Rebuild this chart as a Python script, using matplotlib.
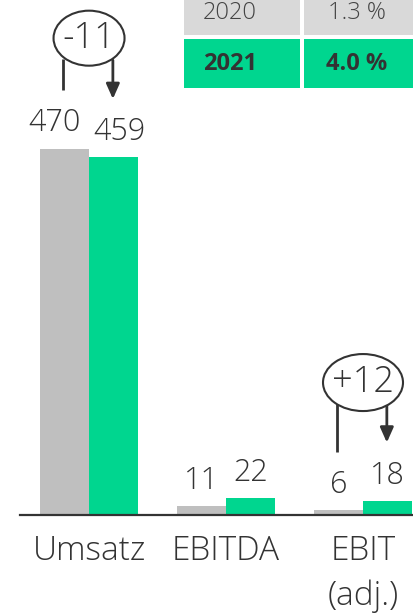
import matplotlib.pyplot as plt
from matplotlib.patches import Ellipse, Rectangle

CATEGORIES = ["Umsatz", "EBITDA", "EBIT\n(adj.)"]
VALUES_2020 = [470, 11, 6]
VALUES_2021 = [459, 22, 18]
DELTA_LABELS = ["-11", "", "+12"]

TABLE_YEARS = ["2020", "2021"]
TABLE_MARGINS = ["1.3 %", "4.0 %"]

GRAY = "#bfbfbf"
GREEN = "#00d68f"
TABLE_GRAY = "#d9d9d9"
TEXT = "#333333"
FONT = ["Open Sans", "DejaVu Sans"]
LIGHT = "light"

W, H = 413, 615
BAR_W = 0.358
YMAX = 661

plt.rcParams["font.family"] = FONT
fig = plt.figure(figsize=(W / 100, H / 100), dpi=100)

# main bar axes, placed in pixel terms: x 20..413, baseline at y=515
ax = fig.add_axes([20 / W, (H - 515) / H, 393 / W, 515 / H])
ax.set_xlim(-0.504, 2.365)
ax.set_ylim(0, YMAX)
x = range(len(CATEGORIES))
ax.bar([i - BAR_W / 2 for i in x], VALUES_2020, BAR_W, color=GRAY)
ax.bar([i + BAR_W / 2 for i in x], VALUES_2021, BAR_W, color=GREEN)

for s in ["top", "right", "left"]:
    ax.spines[s].set_visible(False)
ax.spines["bottom"].set_color(TEXT)
ax.spines["bottom"].set_linewidth(1.6)
ax.set_yticks([])
ax.set_xticks(list(x))
ax.set_xticklabels(CATEGORIES, fontsize=24, color=TEXT, fontweight=LIGHT,
                   linespacing=1.45, va="top")
ax.tick_params(axis="x", length=0, pad=14)

# value labels (Umsatz labels spread apart to avoid overlap)
label_shift = [(-0.07, 0.04), (0, 0), (0, 0)]
for i in x:
    ax.text(i - BAR_W / 2 + label_shift[i][0], VALUES_2020[i] + 12, str(VALUES_2020[i]),
            ha="center", va="bottom", fontsize=22, color=TEXT, fontweight=LIGHT)
    ax.text(i + BAR_W / 2 + label_shift[i][1], VALUES_2021[i] + 12, str(VALUES_2021[i]),
            ha="center", va="bottom", fontsize=22, color=TEXT, fontweight=LIGHT)

# delta annotations: ellipse with a line from the 2020 bar and an arrow to 2021
ell_pos = {0: (612, 71, 55), 2: (170, 80, 57)}
px_x = 1 / 137
px_y = YMAX / 515
for i, (cy, ew, eh) in ell_pos.items():
    ax.add_patch(Ellipse((i, cy), ew * px_x, eh * px_y, facecolor="white",
                         edgecolor=TEXT, linewidth=1.5, zorder=3))
    ax.text(i, cy, DELTA_LABELS[i], ha="center", va="center", fontsize=26,
            color=TEXT, fontweight=LIGHT, zorder=4)
    x0 = i - BAR_W / 2 - 0.01
    x1 = i + BAR_W / 2 - 0.005
    ax.plot([x0, x0], [VALUES_2020[i] + 75, cy - eh * px_y * 0.38],
            color=TEXT, linewidth=2, zorder=2, solid_capstyle="butt")
    ax.annotate("", xy=(x1, VALUES_2021[i] + 75), xytext=(x1, cy - eh * px_y * 0.4),
                arrowprops=dict(arrowstyle="-|>,head_length=0.9,head_width=0.4",
                                color=TEXT, linewidth=2, shrinkA=0, shrinkB=0),
                zorder=2)

# margin table in the top right corner, drawn in pixel coordinates
tab = fig.add_axes([0, 0, 1, 1], zorder=5)
tab.set_xlim(0, W)
tab.set_ylim(H, 0)
tab.axis("off")
tab.patch.set_alpha(0)
rows = [(-5, 40, 13, TABLE_GRAY, LIGHT, "#444444"),
        (39, 49, 64, GREEN, "bold", TEXT)]
for (y0, h, yc, fc, fw, tc), year, margin in zip(rows, TABLE_YEARS, TABLE_MARGINS):
    tab.add_patch(Rectangle((184, y0), 116, h, facecolor=fc, edgecolor="none"))
    tab.add_patch(Rectangle((304, y0), 115, h, facecolor=fc, edgecolor="none"))
    tab.text(203, yc, year, ha="left", va="center", fontsize=17, fontweight=fw, color=tc)
    tab.text(357, yc, margin, ha="center", va="center", fontsize=17, fontweight=fw, color=tc)

fig.savefig("out.png", dpi=100)
